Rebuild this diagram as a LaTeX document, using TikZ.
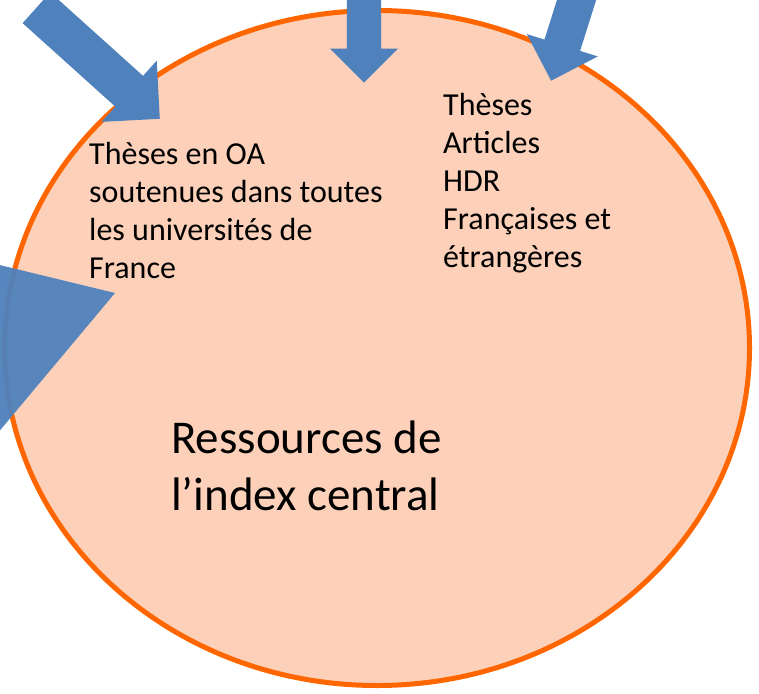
\documentclass[tikz,border=0pt]{standalone}
\usepackage{fontspec}
\setmainfont{Carlito}
\usepackage{xcolor}
\usetikzlibrary{shapes,arrows,positioning,calc}

\definecolor{indexfill}{RGB}{252,208,185}
\definecolor{indexline}{RGB}{255,102,0}
\definecolor{arrblue}{RGB}{79,129,189}

\tikzset{
  pool/.style={ellipse, fill=indexfill, draw=indexline, line width=5pt, inner sep=0pt},
  feed/.style={single arrow, fill=arrblue, draw=none, inner xsep=0pt,
    single arrow tip angle=90, anchor=tip},
  txt/.style={align=left, inner sep=0pt, font=\fontsize{32}{38}\selectfont},
  bigtxt/.style={align=left, inner sep=0pt, font=\fontsize{47}{57}\selectfont}
}

\begin{document}
\begin{tikzpicture}[x=1pt, y=-1pt]
    \useasboundingbox (0,0) rectangle (759,693);
    \clip (0,0) rectangle (759,693);

    % Central index
    \node[pool, minimum width=745pt, minimum height=675pt] (index) at (377,348) {};

    % Texts (anchored on the baseline of their last line)
    \node[txt, anchor=base west] (oa) at (89,278) {Thèses en OA\\soutenues dans toutes\\les universités de\\France};
    \node[txt, anchor=base west] (docs) at (443,267) {Thèses\\Articles\\HDR\\Françaises et\\étrangères};
    \node[bigtxt, anchor=base west] (label) at (171,510) {Ressources de\\l’index central};

    % Incoming sources
    \node[feed, inner ysep=20.5pt, single arrow head extend=20.5pt, minimum height=166pt, rotate=-42] (tl) at (160,119) {};
    \node[feed, inner ysep=17pt, single arrow head extend=17pt, minimum height=130pt, rotate=-90] (tm) at (364,83) {};
    \node[feed, inner ysep=18.5pt, single arrow head extend=18.5pt, minimum height=130pt, rotate=-107.5] (tr) at (551,81) {};

    % Big head entering from the left
    \fill[arrblue, fill opacity=0.95] (115,293) -- (-50,253) -- (-50,490) -- cycle;
\end{tikzpicture}
\end{document}
